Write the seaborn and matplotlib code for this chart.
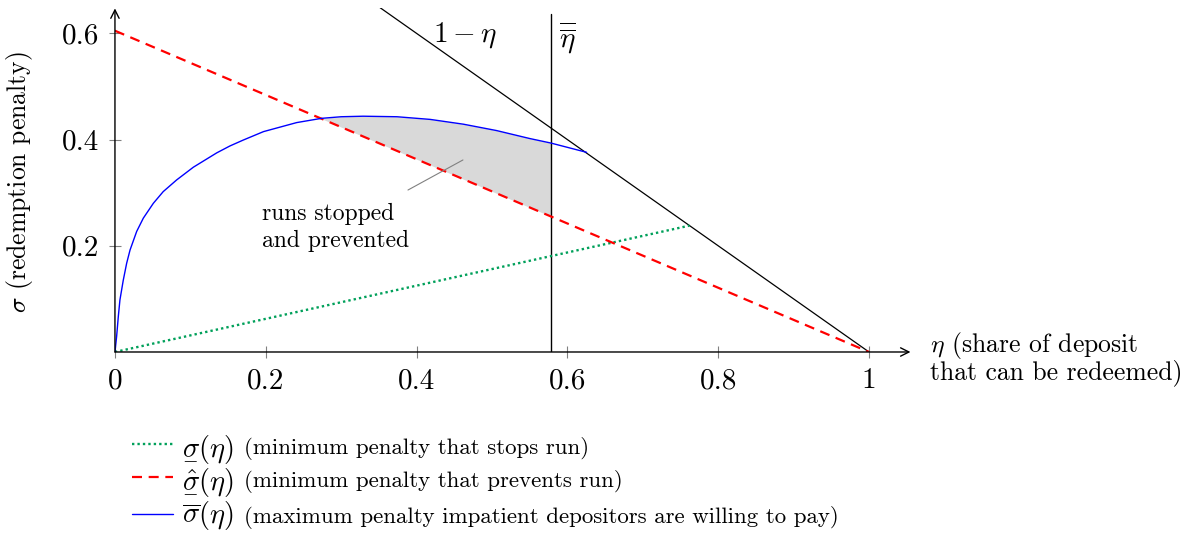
import matplotlib.pyplot as plt
import seaborn as sns
import numpy as np

# Style configuration
sns.set_theme(style="white")
plt.rcParams["font.family"] = ["cmr10", "DejaVu Serif"]
plt.rcParams["mathtext.fontset"] = "cm"
plt.rcParams["axes.unicode_minus"] = False
for key in ["text.color", "axes.labelcolor", "xtick.color", "ytick.color"]:
    plt.rcParams[key] = "black"

GREEN = "#00a05a"
RED = "#ff0000"
BLUE = "#0000ff"
FILL = "#d9d9d9"

# sigma-bar: maximum penalty impatient depositors are willing to pay
eta_hi = [0.0, 0.0022, 0.0044, 0.0066, 0.011, 0.0155, 0.020, 0.0288, 0.0376, 0.0509,
          0.064, 0.0818, 0.104, 0.135, 0.1525, 0.17, 0.197, 0.241, 0.274, 0.30, 0.329,
          0.374, 0.418, 0.462, 0.506, 0.550, 0.578, 0.6255]
sigma_hi = [0.0, 0.029, 0.066, 0.098, 0.135, 0.167, 0.192, 0.227, 0.252, 0.280,
            0.302, 0.324, 0.348, 0.375, 0.388, 0.399, 0.415, 0.432, 0.440, 0.443, 0.444,
            0.443, 0.438, 0.429, 0.417, 0.402, 0.3935, 0.376]

# sigma-hat: minimum penalty that prevents run
eta_hat = [0.0, 1.0]
sigma_hat = [0.605, 0.0]

# sigma-underline: minimum penalty that stops run
eta_lo = [0.0, 0.762]
sigma_lo = [0.0, 0.238]

# 1 - eta boundary
eta_budget = [0.0, 1.0]
sigma_budget = [1.0, 0.0]

eta_bar = 0.578
eta_cross = 0.274

# pointer from the note to the shaded region
note_eta = [0.3886, 0.4615]
note_sigma = [0.305, 0.3616]

xticks = [0, 0.2, 0.4, 0.6, 0.8, 1]
xticklabels = ["0", "0.2", "0.4", "0.6", "0.8", "1"]
yticks = [0.2, 0.4, 0.6]
yticklabels = ["0.2", "0.4", "0.6"]

symbols = [
    r"$\underset{-}{\sigma}(\eta)$",
    r"$\hat{\underset{-}{\sigma}}(\eta)$",
    r"$\overline{\sigma}(\eta)$",
]
descriptions = [
    "(minimum penalty that stops run)",
    "(minimum penalty that prevents run)",
    "(maximum penalty impatient depositors are willing to pay)",
]

fig = plt.figure(figsize=(11.9, 5.36), dpi=100)
ax = fig.add_axes([0.0966, 0.3433, 0.6685, 0.641])
ax.set_xlim(0, 1.055)
ax.set_ylim(0, 0.647)

# shaded area: runs stopped and prevented
eh = np.array(eta_hi)
sh = np.array(sigma_hi)
red_at = np.interp(eh, eta_hat, sigma_hat)
mask = (eh >= eta_cross) & (eh <= eta_bar)
ax.fill_between(eh[mask], red_at[mask], sh[mask], color=FILL, lw=0, zorder=1)

sns.lineplot(x=eta_lo, y=sigma_lo, ax=ax, color=GREEN, linewidth=1.7,
             linestyle=(0, (1, 1.3)), label=symbols[0], zorder=3)
sns.lineplot(x=eta_hat, y=sigma_hat, ax=ax, color=RED, linewidth=1.6,
             linestyle=(0, (4.5, 3)), label=symbols[1], zorder=3)
sns.lineplot(x=eta_hi, y=sigma_hi, ax=ax, color=BLUE, linewidth=1.0,
             label=symbols[2], zorder=3)
ax.plot(eta_budget, sigma_budget, color="black", linewidth=0.9, zorder=2)
ax.axvline(eta_bar, ymax=0.985, color="black", linewidth=1.0, zorder=2)
ax.plot(note_eta, note_sigma, color="#808080", linewidth=0.8, zorder=4)

# axes as arrows
for s in ax.spines.values():
    s.set_visible(False)
arrow = dict(arrowstyle="->,head_length=0.5,head_width=0.25", lw=1.0, color="black",
             shrinkA=0, shrinkB=0)
ax.annotate("", xy=(1.055, 0), xytext=(0, 0), arrowprops=arrow, annotation_clip=False)
ax.annotate("", xy=(0, 0.647), xytext=(0, 0), arrowprops=arrow, annotation_clip=False)

ax.set_xticks(xticks)
ax.set_xticklabels(xticklabels)
ax.set_yticks(yticks)
ax.set_yticklabels(yticklabels)
ax.tick_params(axis="both", bottom=True, left=True, direction="inout", length=8,
               width=0.8, color="#808080", labelcolor="black", labelsize=21, pad=7.5)

ax.set_ylabel(r"$\sigma$ (redemption penalty)", fontsize=18.5)
ax.yaxis.set_label_coords(-0.1006, 0.495)

ax.text(1.081, 0.0, r"$\eta$ (share of deposit", fontsize=18.5, ha="left", va="baseline",
        clip_on=False)
ax.text(1.081, -0.051, "that can be redeemed)", fontsize=18.5, ha="left", va="baseline",
        clip_on=False)

ax.text(0.464, 0.584, r"$1-\eta$", fontsize=21, ha="center", va="baseline")
ax.text(0.60, 0.574, r"$\overline{\overline{\eta}}$", fontsize=21, ha="center", va="baseline")

ax.text(0.195, 0.2486, "runs stopped", fontsize=17, ha="left", va="baseline")
ax.text(0.195, 0.198, "and prevented", fontsize=17, ha="left", va="baseline")

handles, labs = ax.get_legend_handles_labels()
ax.legend_.remove()
leg = fig.legend(handles, labs, loc="upper left", bbox_to_anchor=(132 / 1190, 1 - 434 / 536),
                 frameon=False, fontsize=20.5, handlelength=1.44, handletextpad=0.32,
                 labelspacing=0.12, borderpad=0, borderaxespad=0)

# descriptions follow each symbol in a smaller font, on the same baseline
fig.canvas.draw()
for txt, desc in zip(leg.get_texts(), descriptions):
    right = txt.get_window_extent().x1
    _, base = txt.get_transform().transform((0, 0))
    fx, fy = fig.transFigure.inverted().transform((right + 10, base))
    fig.text(fx, fy, desc, fontsize=16.5, ha="left", va="baseline")

fig.savefig("out.png", dpi=100)
